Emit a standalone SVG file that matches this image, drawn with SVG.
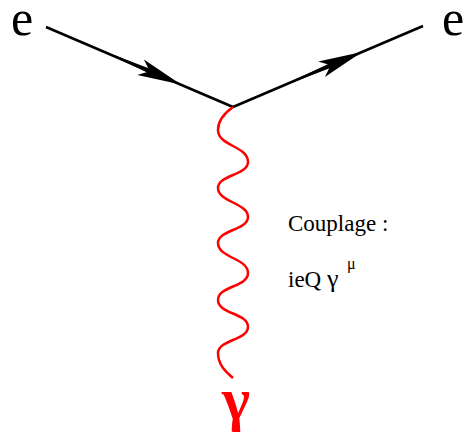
<svg xmlns="http://www.w3.org/2000/svg" xmlns:xlink="http://www.w3.org/1999/xlink" width="464" height="436" viewBox="0 0 464 436">
<style>
.fermion{stroke:#000;stroke-width:2.5;fill:none;stroke-linecap:butt}
.photon{stroke:#ff0000;stroke-width:2.5;fill:none}
.lbl{font-family:"Liberation Serif","Times New Roman",serif;fill:#000}
</style>
<defs>
<g id="arrow">
<path d="M0,0 L-44,-8.5 L-34,0 L-44,8.5 Z" fill="#000"/>
<path d="M-72,-0.8 L-34,-2.4 L-34,2.4 L-72,0.8 Z" fill="#000"/>
</g>
</defs>
<rect width="464" height="436" fill="#fff"/>
<g id="connectors">
<line class="fermion" x1="46" y1="27" x2="233" y2="107"/>
<line class="fermion" x1="233" y1="107" x2="423" y2="26"/>
<use xlink:href="#arrow" href="#arrow" transform="translate(181,84.5) rotate(23.16)"/>
<use xlink:href="#arrow" href="#arrow" transform="translate(362,52) rotate(-23.1)"/>
<path class="photon" d="M233,107 C226,112 218,120 218,130 C218,146 248,146 248,162 C248,175 218,175 218,188 C218,202 248,203 248,217 C248,230 218,230 218,243 C218,258 248,258 248,273 C248,287 218,286 218,300 C218,314 248,313 248,327 C248,340 218,340 218,353 C218,365 226,372 233,378"/>
</g>
<g id="e-in"><text class="lbl" x="11" y="35" font-size="50">e</text></g>
<g id="e-out"><text class="lbl" x="442" y="35" font-size="50">e</text></g>
<g id="photon-label"><text class="lbl" x="236" y="419" font-size="60" font-weight="bold" style="fill:#ff0000" text-anchor="middle">γ</text></g>
<g id="coupling">
<text class="lbl" x="288" y="231" font-size="23">Couplage :</text>
<text class="lbl" x="288" y="287" font-size="23">ieQ <tspan font-size="26">γ</tspan></text>
<text class="lbl" x="347" y="269" font-size="16">μ</text>
</g>
</svg>
